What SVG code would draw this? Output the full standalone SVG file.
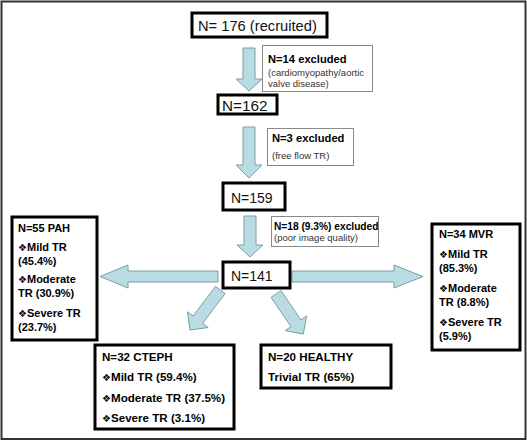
<svg xmlns="http://www.w3.org/2000/svg" width="527" height="441" viewBox="0 0 527 441">
<style>
.bx{fill:#fff;stroke:#000;stroke-width:3}
.ex{fill:#fff;stroke:#8a8a8a;stroke-width:1}
.ar{fill:#B9DCE4;stroke:#7E9CA8;stroke-width:1}
.n{font-family:"Liberation Sans",Arial,sans-serif;font-size:14px;fill:#111}
.b{font-family:"Liberation Sans",Arial,sans-serif;font-size:11px;font-weight:bold;fill:#000}
.b2{font-family:"Liberation Sans",Arial,sans-serif;font-size:11.6px;font-weight:bold;fill:#000}
.e{font-family:"Liberation Sans",Arial,sans-serif;font-size:11.2px;font-weight:bold;fill:#000}
.s{font-family:"Liberation Sans",Arial,sans-serif;font-size:9.5px;fill:#333}
.d{font-family:"DejaVu Sans",sans-serif;font-size:10px;font-weight:normal}
</style>
<rect x="1.5" y="1.5" width="524" height="437.5" fill="#fff" stroke="#333" stroke-width="2"/>
<g id="connectors">
<polygon class="ar" points="243,48 255,48 255,79 262,79 249,91 236,79 243,79"/>
<polygon class="ar" points="243,127 255,127 255,165 262,165 249,178 236,165 243,165"/>
<polygon class="ar" points="244,216 256,216 256,245 263,245 250,257 237,245 244,245"/>
<polygon class="ar" points="218,271 128,271 128,265 100,276.5 128,288 128,282 218,282"/>
<polygon class="ar" points="292,271 394,271 394,265 423,276.5 394,288 394,282 292,282"/>
<polygon class="ar" points="225.1,293.6 215.5,286.4 193.1,316 187.5,311.8 190,330 208.2,327.5 202.6,323.3"/>
<polygon class="ar" points="271,297.4 281,290.6 300.9,319.9 306.7,315.9 303.3,334 285.2,330.6 291,326.6"/>
</g>
<g id="n176"><rect class="bx" x="192" y="13" width="135" height="24"/><text class="n" x="198" y="31" style="font-size:14.7px">N= 176 (recruited)</text></g>
<g id="ex14"><rect class="ex" x="262.5" y="45.5" width="110" height="46"/><text class="e" x="268" y="63">N=14 excluded</text><text class="s" x="268" y="76">(cardiomyopathy/aortic</text><text class="s" x="268" y="87">valve disease)</text></g>
<g id="n162"><rect class="bx" x="218" y="95" width="59" height="19"/><text class="n" x="222" y="110.5" style="font-size:15.3px">N=162</text></g>
<g id="ex3"><rect class="ex" x="267.5" y="128.5" width="86" height="37"/><text class="e" x="272" y="142">N=3 excluded</text><text class="s" x="272" y="159">(free flow TR)</text></g>
<g id="n159"><rect class="bx" x="223" y="183" width="62" height="27"/><text class="n" x="231" y="202.5">N=159</text></g>
<g id="ex18"><rect class="ex" x="271.5" y="216.5" width="107" height="30"/><text class="e" x="274" y="230" style="font-size:10.2px">N=18 (9.3%) excluded</text><text class="s" x="274" y="241">(poor image quality)</text></g>
<g id="n141"><rect class="bx" x="223" y="262" width="67" height="26"/><text class="n" x="231" y="281">N=141</text></g>
<g id="pah"><rect class="bx" x="12" y="217" width="85" height="123"/>
<text class="b" x="18" y="232">N=55 PAH</text>
<text class="b" x="18" y="251"><tspan class="d">❖</tspan>Mild TR</text>
<text class="b" x="18" y="265">(45.4%)</text>
<text class="b" x="18" y="283"><tspan class="d">❖</tspan>Moderate</text>
<text class="b" x="18" y="297">TR (30.9%)</text>
<text class="b" x="18" y="317"><tspan class="d">❖</tspan>Severe TR</text>
<text class="b" x="18" y="331">(23.7%)</text></g>
<g id="mvr"><rect class="bx" x="432" y="224" width="88" height="126"/>
<text class="b" x="439" y="238">N=34 MVR</text>
<text class="b" x="439" y="258"><tspan class="d">❖</tspan>Mild TR</text>
<text class="b" x="439" y="272">(85.3%)</text>
<text class="b" x="439" y="292"><tspan class="d">❖</tspan>Moderate</text>
<text class="b" x="439" y="306">TR (8.8%)</text>
<text class="b" x="439" y="326"><tspan class="d">❖</tspan>Severe TR</text>
<text class="b" x="439" y="340">(5.9%)</text></g>
<g id="cteph"><rect class="bx" x="95" y="345" width="139" height="84"/>
<text class="b2" x="102" y="361">N=32 CTEPH</text>
<text class="b2" x="102" y="381"><tspan class="d">❖</tspan>Mild TR (59.4%)</text>
<text class="b2" x="102" y="402"><tspan class="d">❖</tspan>Moderate TR (37.5%)</text>
<text class="b2" x="102" y="422"><tspan class="d">❖</tspan>Severe TR (3.1%)</text></g>
<g id="healthy"><rect class="bx" x="261" y="345" width="130" height="43"/>
<text class="b2" x="268" y="361">N=20 HEALTHY</text>
<text class="b2" x="268" y="381">Trivial TR (65%)</text></g>
</svg>
